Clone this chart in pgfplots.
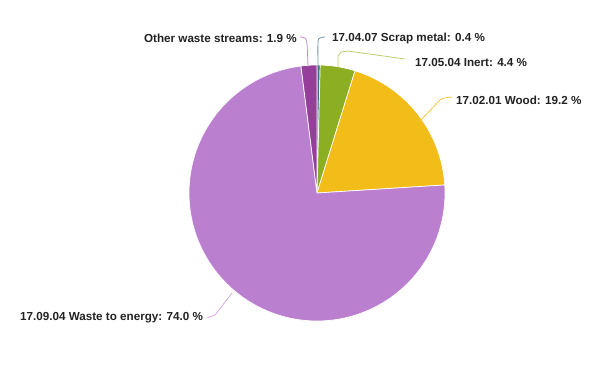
\documentclass[border=0pt]{standalone}
\usepackage{pgfplots}
\pgfplotsset{compat=1.18}
\usepackage{fontspec}
\setmainfont{Liberation Sans}
\definecolor{cScrap}{HTML}{3B6B8A}
\definecolor{cInert}{HTML}{8CAE22}
\definecolor{cWood}{HTML}{F2BD18}
\definecolor{cWaste}{HTML}{BB7FD0}
\definecolor{cOther}{HTML}{953F9B}
\definecolor{lScrap}{HTML}{6F93A8}
\definecolor{lInert}{HTML}{B8D06E}
\definecolor{lWood}{HTML}{F4C842}
\definecolor{lWaste}{HTML}{D6AAE4}
\definecolor{lOther}{HTML}{C38ACB}
\definecolor{txt}{HTML}{222222}
\tikzset{lbl/.style={inner sep=0pt,text=txt,font=\fontsize{11.7}{13}\selectfont\bfseries}}
\begin{document}
\begin{tikzpicture}
\begin{axis}[x=1bp,y=1bp,xmin=0,xmax=599,ymin=0,ymax=366,hide axis,clip=false,scale only axis,
  trig format plots=deg]
\path (axis cs:0,0) rectangle (axis cs:599,366);
% values (percent): scrap 0.4, inert 4.4, wood 19.2, waste 74.0, other 1.9 -- clockwise from top
\addplot[fill=cScrap,draw=white,line width=0.7pt,domain=88.56:90,samples=5,variable=\t]
  ({317+128*cos(\t)},{173+128*sin(\t)}) -- (axis cs:317,173) -- cycle;
\addplot[fill=cInert,draw=white,line width=0.7pt,domain=72.72:88.56,samples=20,variable=\t]
  ({317+128*cos(\t)},{173+128*sin(\t)}) -- (axis cs:317,173) -- cycle;
\addplot[fill=cWood,draw=white,line width=0.7pt,domain=3.6:72.72,samples=60,variable=\t]
  ({317+128*cos(\t)},{173+128*sin(\t)}) -- (axis cs:317,173) -- cycle;
\addplot[fill=cWaste,draw=white,line width=0.7pt,domain=-262.8:3.6,samples=180,variable=\t]
  ({317+128*cos(\t)},{173+128*sin(\t)}) -- (axis cs:317,173) -- cycle;
\addplot[fill=cOther,draw=white,line width=0.7pt,domain=-270:-262.8,samples=8,variable=\t]
  ({317+128*cos(\t)},{173+128*sin(\t)}) -- (axis cs:317,173) -- cycle;
% connectors
\addplot[lOther,line width=0.8pt,smooth] coordinates {(308,299) (307,322) (305,328) (300,329)};
\addplot[lScrap,line width=0.8pt,smooth] coordinates {(318,299) (318,324) (320,328) (325,329)};
\addplot[lInert,line width=0.8pt] coordinates {(338,299) (338,310) (341,314) (348,315) (405,307)};
\addplot[lWood,line width=0.8pt] coordinates {(420,245) (440,266) (444,268) (452,269)};
\addplot[lWaste,line width=0.8pt] coordinates {(232,73) (215,51) (207,48)};
% labels
\node[lbl,anchor=east] at (axis cs:297,328) {Other waste streams: 1.9 \%};
\node[lbl,anchor=west] at (axis cs:332,328) {17.04.07 Scrap metal: 0.4 \%};
\node[lbl,anchor=west] at (axis cs:415,304) {17.05.04 Inert: 4.4 \%};
\node[lbl,anchor=west] at (axis cs:456,266) {17.02.01 Wood: 19.2 \%};
\node[lbl,anchor=west] at (axis cs:20,48) {17.09.04 Waste to energy: 74.0 \%};
\end{axis}
\end{tikzpicture}
\end{document}
